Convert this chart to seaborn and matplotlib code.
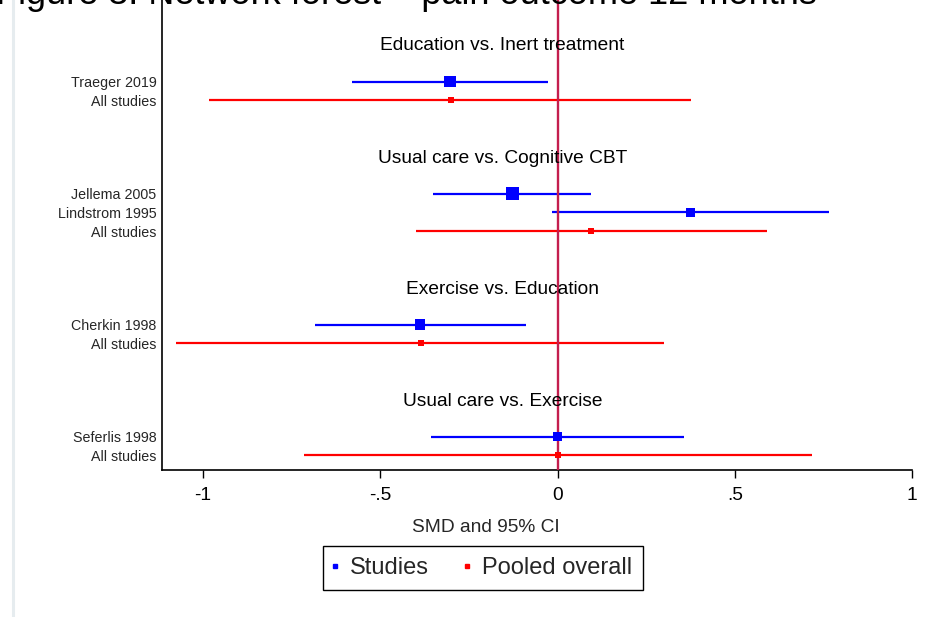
import matplotlib
matplotlib.use("Agg")
import matplotlib.pyplot as plt
from matplotlib.lines import Line2D
import numpy as np
import pandas as pd
import seaborn as sns

# ---- data -------------------------------------------------------------
comparisons = [
    "Education vs. Inert treatment",
    "Usual care vs. Cognitive CBT",
    "Exercise vs. Education",
    "Usual care vs. Exercise",
]
study_names = ["Traeger 2019", "Jellema 2005", "Lindstrom 1995", "Cherkin 1998", "Seferlis 1998"]
study_comparison = [0, 1, 1, 2, 3]
study_smd = [-0.304, -0.128, 0.374, -0.388, 0.0]
study_lo = [-0.579, -0.352, -0.017, -0.684, -0.358]
study_hi = [-0.026, 0.093, 0.766, -0.089, 0.357]
study_weight = [11.5, 13.0, 9.0, 10.7, 8.7]  # box side in px, proportional to weight

pooled_smd = [-0.302, 0.095, -0.386, 0.0]
pooled_lo = [-0.983, -0.400, -1.076, -0.715]
pooled_hi = [0.376, 0.590, 0.301, 0.717]

x_ticks = [-1, -0.5, 0, 0.5, 1]
x_tick_labels = ["-1", "-.5", "0", ".5", "1"]

# ---- row layout -------------------------------------------------------
title_rows, study_rows, pooled_rows = [], [], []
row = 0
for c in range(len(comparisons)):
    title_rows.append(row)
    row += 2
    for i, sc in enumerate(study_comparison):
        if sc == c:
            study_rows.append(row)
            row += 1
    pooled_rows.append(row)
    row += 3

studies = pd.DataFrame({"smd": study_smd, "lo": study_lo, "hi": study_hi,
                        "row": study_rows, "w": study_weight})
pooled = pd.DataFrame({"smd": pooled_smd, "lo": pooled_lo, "hi": pooled_hi,
                       "row": pooled_rows})

# ---- figure -------------------------------------------------------------
sns.set_theme(style="white")
plt.rcParams["font.family"] = ["Liberation Sans", "DejaVu Sans"]

DPI = 100
fig = plt.figure(figsize=(9.46, 6.17), dpi=DPI)
ax = fig.add_axes([162 / 946, (617 - 470) / 617, (912 - 162) / 946, 470 / 617])

BLUE = "#0000FF"
RED = "#FF0000"
ZERO = "#C41E4E"

# confidence intervals
ax.hlines(studies["row"], studies["lo"], studies["hi"], color=BLUE, lw=1.6, zorder=2)
ax.hlines(pooled["row"], pooled["lo"], pooled["hi"], color=RED, lw=1.6, zorder=2)

# line of no effect
ax.axvline(0, color=ZERO, lw=1.7, zorder=3)

# point estimates
side_pt = studies["w"] * 72 / DPI
sns.scatterplot(data=studies, x="smd", y="row", marker="s", color=BLUE,
                s=(side_pt ** 2).to_numpy(), linewidth=0, legend=False, zorder=4, ax=ax)
sns.scatterplot(data=pooled, x="smd", y="row", marker="s", color=RED,
                s=(6.6 * 72 / DPI) ** 2, linewidth=0, legend=False, zorder=4, ax=ax)

# comparison headings
for name, r in zip(comparisons, title_rows):
    ax.text(-0.155, r + 0.1, name, ha="center", va="center", fontsize=13.8, color="black")

# axes
ax.set_xlim(-1.116, 1.0)
ax.set_ylim(22.78, -2.36)
ax.set_xticks(x_ticks)
ax.set_xticklabels(x_tick_labels, fontsize=13.8)
ax.tick_params(axis="x", direction="out", length=6, width=1.0, pad=6.5, colors="black",
               bottom=True)
ylabels = []
yrows = []
for c in range(len(comparisons)):
    for i, sc in enumerate(study_comparison):
        if sc == c:
            ylabels.append(study_names[i])
            yrows.append(study_rows[i])
    ylabels.append("All studies")
    yrows.append(pooled_rows[c])
ax.set_yticks(yrows)
ax.set_yticklabels(ylabels, fontsize=10.3)
ax.tick_params(axis="y", length=0, pad=4)
ax.set_xlabel("SMD and 95% CI", fontsize=13.8)
ax.xaxis.set_label_coords((486 - 162) / 750, -(527 - 470) / 470)
ax.xaxis.label.set_va("center")
ax.set_ylabel("")
for side in ["top", "right"]:
    ax.spines[side].set_visible(False)
for side in ["left", "bottom"]:
    ax.spines[side].set_color("black")
    ax.spines[side].set_linewidth(1.2)
ax.set_facecolor("white")

# legend
handles = [
    Line2D([], [], marker="s", color=BLUE, linestyle="none", markersize=3.0),
    Line2D([], [], marker="s", color=RED, linestyle="none", markersize=3.0),
]
leg = fig.legend(handles, ["Studies", "Pooled overall"], loc="center",
                 bbox_to_anchor=(483 / 946, (617 - 568) / 617), ncol=2,
                 fontsize=17, frameon=True, fancybox=False, framealpha=1,
                 edgecolor="black", handlelength=0.05, handletextpad=0.6,
                 columnspacing=1.6, borderpad=0.46)
leg.get_frame().set_linewidth(1.0)

# figure heading, sitting at the upper edge
fig.text(-0.004, 1 - 4 / 617, "Figure 3. Network forest \u2013 pain outcome 12 months",
         ha="left", va="baseline", fontsize=26, color="black")

# thin page border on the left
fig.add_artist(Line2D([12.5 / 946, 12.5 / 946], [0, 1], color="#E6ECEF", lw=2.2))

fig.savefig("out.png", dpi=DPI, facecolor="white")
